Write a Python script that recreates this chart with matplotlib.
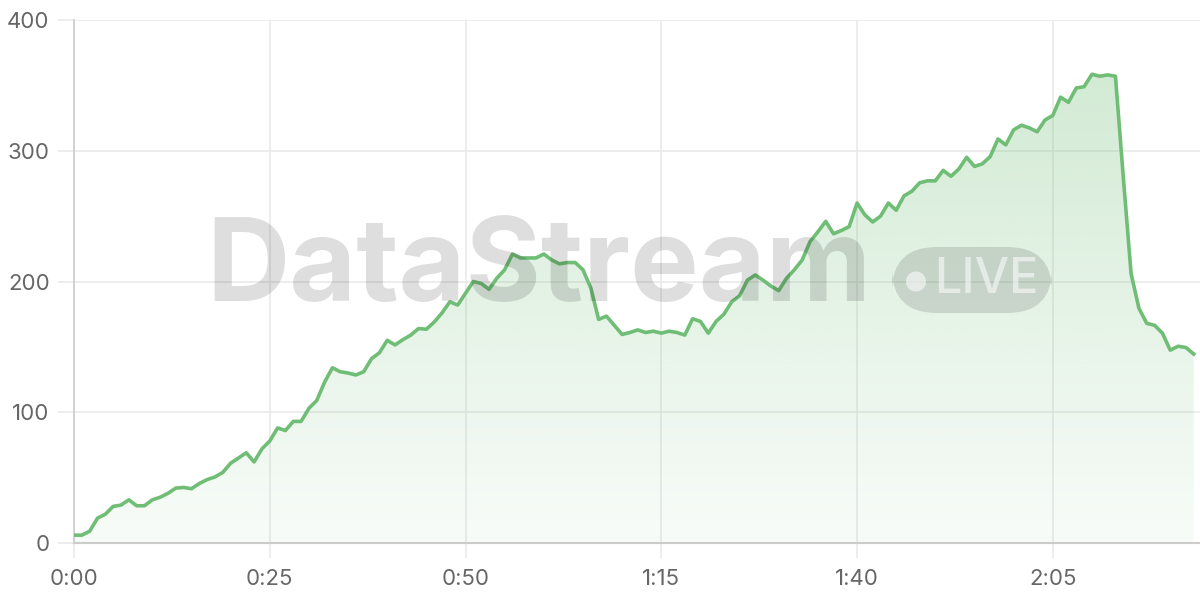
import numpy as np
import matplotlib
matplotlib.use("Agg")
import matplotlib.pyplot as plt
from matplotlib.patches import FancyBboxPatch, Circle, Polygon
from matplotlib.colors import to_rgb

# ---- data ----
values = [
    6, 6, 9, 19, 22, 28, 29, 33, 28.5, 28.5,
    33, 35, 38, 42, 42.5, 41.5, 45.5, 48.5, 50.5, 54,
    61, 65, 69, 62, 72, 78, 88, 86, 93, 93,
    103, 109, 123, 134, 131, 130, 128.5, 131, 141, 145.5,
    155, 151.5, 155.5, 159, 164, 163.5, 169, 176, 184.5, 182,
    191, 200, 198.5, 194, 202.5, 209, 221, 218, 218, 218,
    221, 216.5, 213.5, 214.5, 214.5, 209, 195, 171, 173.5, 166.5,
    159.5, 161, 163, 161, 162, 160.5, 162, 161, 159, 171.5,
    169.5, 160.5, 169.5, 175, 184.5, 189, 201, 205, 201, 196.5,
    193, 202.5, 209, 216.5, 230.5, 238, 246, 236.5, 239, 242,
    260, 251, 245.5, 250, 260, 254.5, 265.5, 269, 275.5, 277,
    277, 285, 280.5, 286, 295, 288, 290, 295.5, 309, 304.5,
    316, 319.5, 317.5, 314.5, 323.5, 327, 341, 337, 348, 349,
    358.5, 357, 358, 357, 280, 206, 179.5, 168, 166.5, 160.5,
    147.5, 150.5, 149.5, 144.5,
]
seconds = list(range(len(values)))
x_ticks = [0, 25, 50, 75, 100, 125]
x_tick_labels = ["0:00", "0:25", "0:50", "1:15", "1:40", "2:05"]
y_ticks = [0, 100, 200, 300, 400]
y_tick_labels = ["0", "100", "200", "300", "400"]
watermark = "DataStream"
badge = "LIVE"

# ---- style ----
plt.rcParams['font.family'] = ['Inter', 'DejaVu Sans']
LINE = "#70bd76"
GRID = "#e8e8e8"
AXIS = "#cccccc"
TEXT = "#666666"

fig = plt.figure(figsize=(12, 6), dpi=100)
ax = fig.add_axes([74 / 1200, 57 / 600, 1126 / 1200, 523 / 600])
ax.set_xlim(0, 143.8)
ax.set_ylim(0, 400)

x = np.array(seconds, dtype=float)
y = np.array(values, dtype=float)

# gradient fill
rgb = to_rgb(LINE)
n = 256
alphas = np.linspace(0.05, 0.34, n)[:, None]
img = np.zeros((n, 1, 4))
img[..., 0], img[..., 1], img[..., 2] = rgb
img[..., 3] = alphas
poly_xy = np.column_stack([np.r_[x[0], x, x[-1]], np.r_[0, y, 0]])
poly = Polygon(poly_xy, closed=True, facecolor='none', edgecolor='none')
ax.add_patch(poly)
im = ax.imshow(img, extent=[0, x[-1], 0, 400], origin='lower', aspect='auto',
               zorder=1, interpolation='bilinear')
im.set_clip_path(poly)

ax.plot(x, y, color=LINE, lw=2.6, zorder=3, solid_joinstyle='round')

# grid & axes
ax.set_xticks(x_ticks)
ax.set_xticklabels(x_tick_labels)
ax.set_yticks(y_ticks)
ax.set_yticklabels(y_tick_labels)
ax.grid(True, color=GRID, lw=1.1, zorder=0)
ax.set_axisbelow(True)
for s in ['top', 'right']:
    ax.spines[s].set_visible(False)
ax.spines['left'].set_color(AXIS)
ax.spines['left'].set_linewidth(1.2)
ax.spines['bottom'].set_color(AXIS)
ax.spines['bottom'].set_linewidth(1.5)
ax.tick_params(axis='x', length=11, width=1.1, color=GRID, labelsize=16,
               labelcolor=TEXT, pad=8)
ax.tick_params(axis='y', length=11.5, width=1.1, color=GRID, labelsize=16,
               labelcolor=TEXT, pad=6)

# watermark
fig.text(539 / 1200, 1 - 271 / 600, watermark, fontsize=83, fontweight='bold',
         color=(0, 0, 0, 0.13), ha='center', va='center', zorder=10,
         family=['Inter', 'DejaVu Sans'])
bx0, by0, bx1, by1 = 892, 247, 1052, 313
box = FancyBboxPatch((bx0 / 1200, 1 - by1 / 600), (bx1 - bx0) / 1200,
                     (by1 - by0) / 600,
                     boxstyle="round,pad=0,rounding_size=0.037",
                     transform=fig.transFigure, facecolor=(0, 0, 0, 0.12),
                     edgecolor='none', zorder=10,
                     mutation_aspect=2)
fig.add_artist(box)
dot = Circle((916, 600 - 281.5), 10, transform=None,
             facecolor=(1, 1, 1, 0.55), edgecolor='none', zorder=11)
fig.add_artist(dot)
fig.text(986 / 1200, 1 - 280 / 600, badge, fontsize=35, fontweight='medium',
         color=(1, 1, 1, 0.55), ha='center', va='center', zorder=11)

fig.savefig("out.png", dpi=100)
